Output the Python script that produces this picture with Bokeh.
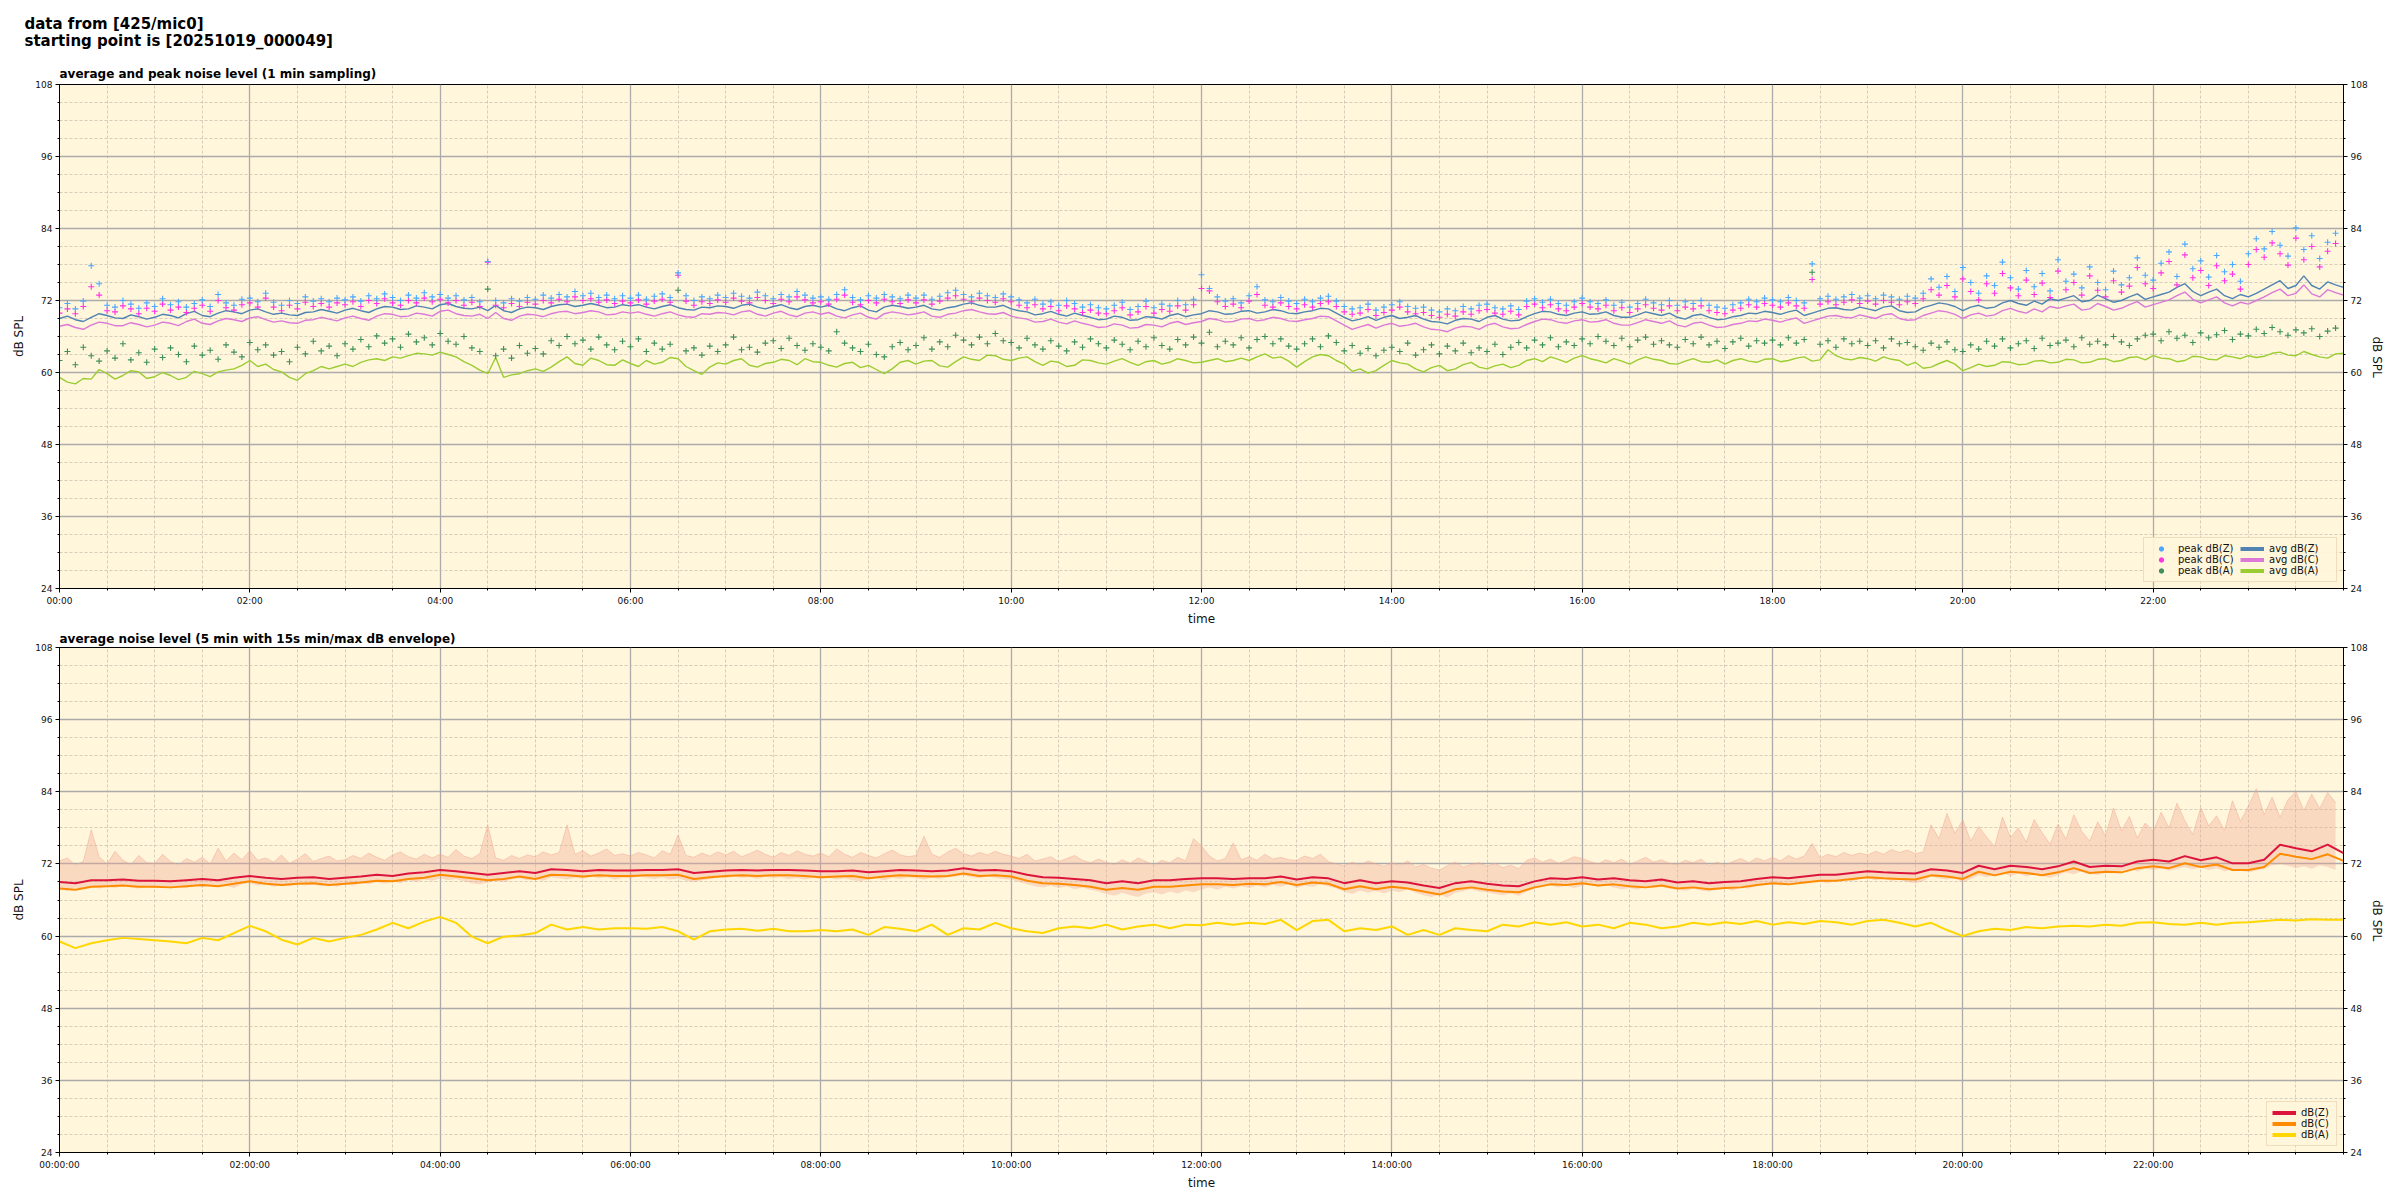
import math
from bokeh.plotting import figure
from bokeh.models import Range1d, LinearAxis, FixedTicker, Title, Legend, LegendItem
from bokeh.layouts import column
from bokeh.embed import file_html
from bokeh.resources import INLINE

# ---------------- data ----------------
SUPTITLE = "data from [425/mic0]\nstarting point is [20251019_000049]"
TITLE_TOP = "average and peak noise level (1 min sampling)"
TITLE_BOT = "average noise level (5 min with 15s min/max dB envelope)"

x_ticks = [0, 120, 240, 360, 480, 600, 720, 840, 960, 1080, 1200, 1320]
x_labels_top = ["00:00", "02:00", "04:00", "06:00", "08:00", "10:00",
                "12:00", "14:00", "16:00", "18:00", "20:00", "22:00"]
x_labels_bot = ["00:00:00", "02:00:00", "04:00:00", "06:00:00", "08:00:00", "10:00:00",
                "12:00:00", "14:00:00", "16:00:00", "18:00:00", "20:00:00", "22:00:00"]
y_ticks = [24, 36, 48, 60, 72, 84, 96, 108]

# minutes after midnight
t5_line = list(range(0, 1441, 5))   # 5-minute readings incl. end point
t5 = list(range(0, 1440, 5))        # 5-minute readings
t10 = list(range(0, 1441, 10))      # 10-minute readings

# --- top chart: average levels (5-min readings)
avg_z = [69.0, 69.4, 68.8, 68.5, 69.2, 69.8, 69.5, 69.1, 69.0, 69.6, 69.3, 68.9,
         69.2, 69.7, 69.5, 69.1, 69.8, 70.2, 69.5, 69.3, 69.9, 70.3, 70.1, 69.8,
         70.4, 70.6, 70.1, 69.7, 69.9, 69.6, 69.5, 70.0, 70.1, 70.5, 70.2, 69.9,
         70.4, 70.7, 70.3, 70.0, 70.6, 71.0, 70.9, 70.5, 70.6, 71.1, 70.9, 70.6,
         71.3, 71.5, 71.0, 70.7, 70.6, 70.9, 70.3, 71.2, 70.3, 70.0, 70.6, 70.9,
         70.8, 70.5, 71.0, 71.3, 71.4, 71.0, 71.2, 71.5, 71.2, 70.8, 70.9, 71.3,
         71.1, 71.3, 70.9, 70.6, 71.0, 71.3, 70.8, 70.5, 70.4, 70.9, 70.8, 71.1,
         71.0, 70.7, 71.2, 71.4, 70.9, 70.6, 71.0, 71.3, 70.8, 70.5, 71.0, 71.2,
         70.9, 71.2, 70.6, 70.3, 70.8, 71.1, 70.4, 70.1, 70.9, 71.2, 71.0, 70.7,
         70.9, 71.2, 70.6, 70.4, 70.8, 71.0, 71.4, 71.6, 71.2, 70.9, 70.9, 71.2,
         70.6, 70.3, 70.1, 69.6, 69.8, 70.2, 69.7, 69.4, 69.9, 69.5, 69.2, 68.8,
         68.9, 69.4, 69.2, 68.7, 68.8, 69.3, 69.2, 68.9, 69.5, 69.8, 69.3, 69.6,
         69.8, 70.3, 70.1, 69.7, 69.8, 70.2, 70.3, 69.9, 70.1, 70.5, 70.3, 69.9,
         69.8, 70.1, 70.3, 70.7, 70.6, 69.9, 69.2, 68.6, 68.9, 69.3, 68.7, 69.2,
         69.5, 69.0, 69.2, 69.5, 68.9, 68.5, 68.4, 68.1, 68.7, 69.0, 68.9, 68.5,
         69.2, 69.5, 68.9, 68.6, 68.7, 69.3, 69.8, 70.2, 70.1, 69.7, 69.5, 69.9,
         70.1, 69.7, 69.8, 70.1, 69.5, 69.2, 69.2, 69.6, 70.1, 69.8, 69.5, 69.9,
         69.2, 68.9, 69.5, 69.7, 69.2, 68.8, 68.9, 69.3, 69.5, 69.9, 69.8, 70.2,
         70.0, 69.7, 70.1, 70.4, 69.5, 69.9, 70.3, 70.7, 70.8, 70.5, 70.4, 70.9,
         70.6, 70.3, 70.9, 71.1, 70.3, 70.0, 70.1, 70.8, 71.2, 71.6, 71.4, 71.0,
         70.3, 70.9, 71.2, 70.7, 70.9, 71.6, 72.0, 71.5, 71.2, 71.9, 71.4, 72.3,
         72.0, 72.4, 72.8, 71.8, 72.0, 72.9, 72.3, 71.7, 72.0, 72.6, 73.1, 72.2,
         72.6, 73.0, 73.4, 74.2, 74.8, 73.5, 72.8, 73.4, 73.9, 72.8, 72.3, 73.0,
         72.6, 73.2, 73.9, 74.6, 75.3, 74.0, 74.5, 76.1, 74.5, 73.9, 75.1, 74.6,
         74.2]
avg_c = [67.7, 68.0, 67.5, 67.2, 67.9, 68.4, 68.2, 67.8, 67.8, 68.3, 68.0, 67.6,
         67.9, 68.4, 68.2, 67.8, 68.5, 68.9, 68.2, 68.0, 68.6, 69.0, 68.8, 68.5,
         69.1, 69.3, 68.8, 68.4, 68.6, 68.3, 68.2, 68.7, 68.8, 69.2, 68.9, 68.6,
         69.1, 69.4, 69.0, 68.7, 69.4, 69.8, 69.7, 69.3, 69.4, 69.9, 69.7, 69.4,
         70.2, 70.4, 69.8, 69.5, 69.4, 69.7, 69.0, 70.0, 69.0, 68.7, 69.4, 69.7,
         69.6, 69.3, 69.8, 70.1, 70.2, 69.8, 70.0, 70.3, 70.1, 69.6, 69.7, 70.1,
         69.9, 70.1, 69.7, 69.4, 69.8, 70.1, 69.6, 69.3, 69.2, 69.8, 69.7, 70.0,
         69.9, 69.6, 70.1, 70.3, 69.7, 69.4, 69.9, 70.2, 69.6, 69.3, 69.9, 70.1,
         69.7, 70.0, 69.4, 69.1, 69.6, 69.9, 69.2, 68.9, 69.8, 70.1, 69.9, 69.6,
         69.8, 70.1, 69.4, 69.2, 69.7, 69.9, 70.3, 70.5, 70.1, 69.8, 69.7, 70.0,
         69.4, 69.1, 68.9, 68.4, 68.5, 68.9, 68.4, 68.1, 68.6, 68.2, 67.9, 67.5,
         67.6, 68.1, 67.9, 67.4, 67.5, 68.0, 67.9, 67.6, 68.2, 68.5, 68.0, 68.3,
         68.5, 69.0, 68.8, 68.4, 68.5, 68.9, 69.0, 68.6, 68.8, 69.2, 69.0, 68.6,
         68.5, 68.8, 69.0, 69.4, 69.3, 68.6, 67.9, 67.2, 67.6, 68.0, 67.4, 67.9,
         68.2, 67.7, 67.9, 68.2, 67.6, 67.2, 67.1, 66.8, 67.4, 67.7, 67.6, 67.2,
         67.9, 68.2, 67.6, 67.3, 67.4, 68.0, 68.5, 68.9, 68.8, 68.4, 68.2, 68.6,
         68.8, 68.4, 68.5, 68.8, 68.2, 67.9, 67.9, 68.3, 68.8, 68.5, 68.2, 68.6,
         67.9, 67.6, 68.2, 68.4, 67.9, 67.5, 67.6, 68.0, 68.2, 68.6, 68.5, 68.9,
         68.7, 68.4, 68.8, 69.1, 68.2, 68.6, 69.0, 69.4, 69.5, 69.2, 69.1, 69.6,
         69.3, 69.0, 69.6, 69.8, 69.0, 68.7, 68.8, 69.5, 69.9, 70.3, 70.1, 69.7,
         69.0, 69.6, 69.9, 69.4, 69.6, 70.3, 70.7, 70.2, 69.9, 70.6, 70.1, 71.0,
         70.7, 71.1, 71.4, 70.4, 70.6, 71.5, 71.0, 70.4, 70.7, 71.3, 71.8, 70.9,
         71.3, 71.7, 72.1, 72.8, 73.4, 72.2, 71.6, 72.1, 72.6, 71.6, 71.1, 71.7,
         71.4, 72.0, 72.6, 73.3, 73.9, 72.8, 73.2, 74.6, 73.1, 72.6, 73.8, 73.3,
         72.9]
avg_a = [59.2, 58.4, 58.1, 59.0, 58.9, 60.5, 59.8, 58.9, 59.5, 60.3, 60.1, 59.0,
         59.3, 60.0, 59.5, 58.8, 59.2, 60.2, 59.8, 59.3, 60.1, 60.4, 60.6, 61.2,
         62.0, 61.0, 61.4, 60.5, 60.1, 59.2, 58.7, 59.8, 60.3, 61.0, 60.6, 61.0,
         61.4, 61.0, 61.7, 62.1, 62.3, 62.0, 62.6, 62.4, 62.8, 63.2, 63.1, 62.9,
         63.4, 63.0, 62.6, 61.8, 61.2, 60.4, 59.8, 62.5, 59.2, 59.6, 59.8, 60.3,
         60.6, 60.2, 60.9, 61.8, 62.6, 61.5, 61.2, 62.4, 62.0, 61.3, 61.2, 62.1,
         61.5, 61.0, 62.0, 61.4, 61.7, 62.5, 62.3, 61.0, 60.3, 59.7, 60.9, 61.6,
         61.4, 62.0, 62.3, 61.2, 60.9, 61.5, 61.7, 62.2, 62.0, 61.3, 62.3, 61.8,
         61.7, 61.2, 60.9, 61.5, 61.7, 60.8, 61.2, 60.5, 59.8, 60.6, 61.7, 62.0,
         61.4, 61.9, 62.0, 61.1, 60.9, 61.8, 62.6, 62.2, 62.0, 62.9, 62.8, 62.2,
         62.0, 62.4, 62.6, 61.8, 61.2, 61.9, 61.7, 61.0, 61.2, 62.1, 62.0, 61.6,
         61.4, 61.9, 62.3, 61.7, 61.2, 61.8, 62.0, 61.4, 61.7, 62.3, 62.0, 61.6,
         61.7, 62.0, 62.3, 61.8, 62.0, 62.4, 62.0, 62.6, 63.1, 62.4, 62.6, 61.9,
         60.9, 61.8, 62.6, 63.0, 62.8, 62.0, 61.4, 60.2, 60.6, 59.9, 60.3, 61.2,
         62.0, 61.6, 61.4, 60.6, 60.1, 60.8, 61.2, 60.3, 60.6, 61.3, 61.7, 60.9,
         60.6, 61.1, 61.4, 60.8, 61.2, 62.0, 62.3, 61.8, 62.6, 62.2, 61.7, 62.4,
         62.8, 62.3, 62.0, 61.6, 62.3, 61.9, 61.4, 62.1, 62.6, 62.2, 62.0, 61.5,
         61.4, 61.9, 62.3, 61.8, 61.7, 62.1, 61.4, 62.0, 62.3, 61.9, 61.7, 62.2,
         62.3, 61.8, 62.0, 62.4, 62.6, 61.9, 62.1, 63.8, 62.8, 62.3, 62.1, 62.5,
         62.3, 61.9, 62.6, 62.2, 62.0, 61.2, 61.7, 60.7, 60.9, 61.5, 62.0, 61.4,
         60.3, 60.8, 61.4, 61.0, 61.2, 61.8, 61.7, 61.3, 61.4, 61.9, 62.0, 61.6,
         61.7, 62.2, 62.1, 61.6, 61.7, 62.2, 62.3, 61.8, 62.0, 62.5, 62.6, 62.1,
         62.8, 62.4, 62.3, 61.8, 62.0, 62.7, 62.6, 62.2, 62.1, 62.8, 62.6, 62.3,
         62.8, 62.5, 62.7, 63.2, 63.4, 62.9, 62.8, 63.5, 63.0, 62.6, 62.4, 63.1,
         63.2]

# --- top chart: peak levels (5-min readings)
peak_z = [70.8, 71.5, 70.6, 71.9, 77.8, 74.8, 71.2, 70.9, 72.0, 71.4, 70.7, 71.6,
          71.0, 72.3, 71.3, 71.8, 70.9, 71.5, 72.1, 71.0, 73.0, 71.6, 71.2, 72.2,
          72.4, 71.8, 73.2, 71.7, 71.2, 72.0, 71.5, 72.6, 71.9, 72.3, 71.8, 72.4,
          72.1, 72.6, 71.9, 72.8, 72.3, 73.1, 72.5, 72.0, 72.9, 72.4, 73.3, 72.6,
          73.0, 72.4, 72.8, 72.1, 72.5, 71.8, 78.5, 72.0, 71.6, 72.3, 71.9, 72.5,
          72.2, 72.9, 72.4, 73.0, 72.6, 73.5, 72.8, 73.2, 72.5, 72.9, 72.3, 72.8,
          72.4, 72.9, 72.2, 72.7, 73.1, 72.5, 76.6, 72.8, 72.0, 72.6, 72.3, 72.9,
          72.5, 73.2, 72.7, 72.4, 73.4, 72.8, 72.3, 73.0, 72.6, 73.5, 72.9, 72.4,
          72.6, 72.2, 73.0, 73.8, 72.5, 72.1, 72.8, 72.4, 73.0, 72.6, 72.3, 72.9,
          72.4, 72.9, 72.2, 72.7, 73.3, 73.7, 73.0, 72.6, 73.2, 72.8, 72.5, 73.1,
          72.6, 72.1, 71.6, 72.2, 71.4, 71.8, 71.2, 72.0, 71.5, 70.9, 71.3, 70.8,
          70.6, 71.2, 71.7, 70.5, 71.0, 71.9, 70.8, 71.4, 71.1, 72.0, 71.3, 72.2,
          76.3, 74.0, 72.6, 71.9, 72.3, 71.6, 72.8, 74.3, 72.1, 71.8, 72.5, 71.9,
          71.5, 72.2, 71.8, 72.4, 72.7, 71.9, 71.0, 70.6, 70.8, 71.4, 70.4, 70.9,
          71.3, 71.8, 71.0, 70.7, 70.9, 70.4, 70.1, 70.6, 70.3, 71.0, 70.6, 71.2,
          71.4, 70.8, 70.6, 71.1, 70.5, 71.9, 72.3, 71.7, 72.2, 71.5, 71.2, 71.8,
          72.4, 71.8, 71.5, 72.1, 71.2, 71.7, 70.9, 71.5, 72.2, 71.6, 71.3, 72.0,
          71.2, 71.8, 71.5, 72.0, 71.2, 70.9, 70.7, 71.3, 71.6, 72.2, 71.8, 72.4,
          72.1, 71.8, 72.5, 72.0, 71.6, 78.1, 72.3, 72.7, 72.2, 72.6, 73.0, 72.4,
          72.8, 72.3, 72.9, 72.6, 72.2, 72.7, 72.4, 73.2, 75.6, 74.2, 76.0, 73.5,
          77.5, 75.0, 73.2, 76.1, 74.5, 78.4, 75.8, 73.9, 77.0, 74.3, 76.5, 73.6,
          78.8, 75.2, 76.4, 74.1, 77.6, 75.0, 73.8, 76.9, 74.6, 75.8, 79.1, 76.2,
          75.4, 78.2, 80.1, 76.0, 81.4, 77.3, 78.6, 75.9, 79.5, 76.8, 78.0, 75.2,
          79.8, 82.3, 80.6, 83.5, 81.2, 79.4, 84.1, 80.5, 82.8, 79.0, 81.7, 83.2]
peak_c = [69.9, 70.6, 69.8, 71.0, 74.3, 72.9, 70.3, 70.1, 71.1, 70.6, 69.8, 70.7,
          70.2, 71.4, 70.4, 70.9, 70.0, 70.7, 71.2, 70.2, 72.0, 70.8, 70.4, 71.3,
          71.6, 70.9, 72.4, 70.9, 70.3, 71.2, 70.6, 71.7, 71.0, 71.5, 70.9, 71.6,
          71.3, 71.8, 71.0, 72.0, 71.5, 72.3, 71.6, 71.2, 72.0, 71.6, 72.4, 71.8,
          72.2, 71.6, 72.0, 71.2, 71.7, 71.0, 78.4, 71.2, 70.8, 71.5, 71.0, 71.7,
          71.4, 72.0, 71.6, 72.2, 71.8, 72.6, 72.0, 72.3, 71.7, 72.1, 71.5, 71.9,
          71.6, 72.1, 71.4, 71.9, 72.2, 71.7, 76.2, 71.9, 71.2, 71.8, 71.5, 72.1,
          71.7, 72.4, 71.9, 71.6, 72.5, 72.0, 71.5, 72.2, 71.8, 72.6, 72.1, 71.6,
          71.8, 71.4, 72.2, 72.9, 71.7, 71.3, 72.0, 71.6, 72.2, 71.8, 71.5, 72.1,
          71.6, 72.1, 71.4, 71.9, 72.4, 72.8, 72.2, 71.8, 72.4, 72.0, 71.7, 72.3,
          71.8, 71.2, 70.8, 71.3, 70.6, 71.0, 70.3, 71.1, 70.6, 70.0, 70.4, 69.9,
          69.8, 70.3, 70.8, 69.6, 70.1, 71.0, 69.9, 70.5, 70.2, 71.1, 70.4, 71.3,
          74.0, 73.6, 71.8, 71.0, 71.4, 70.8, 71.9, 73.0, 71.2, 70.9, 71.6, 71.0,
          70.6, 71.3, 70.9, 71.5, 71.8, 71.0, 70.1, 69.7, 69.9, 70.5, 69.5, 70.0,
          70.4, 70.9, 70.1, 69.8, 70.0, 69.5, 69.2, 69.7, 69.4, 70.1, 69.7, 70.3,
          70.5, 69.9, 69.7, 70.2, 69.6, 71.0, 71.4, 70.8, 71.3, 70.6, 70.3, 70.9,
          71.5, 70.9, 70.6, 71.2, 70.3, 70.8, 70.0, 70.6, 71.3, 70.7, 70.4, 71.1,
          70.3, 70.9, 70.6, 71.1, 70.3, 70.0, 69.8, 70.4, 70.7, 71.3, 70.9, 71.5,
          71.2, 70.9, 71.6, 71.1, 70.7, 75.5, 71.4, 71.8, 71.3, 71.7, 72.1, 71.5,
          71.9, 71.4, 72.0, 71.7, 71.3, 71.8, 71.5, 72.3, 73.8, 72.9, 74.5, 72.6,
          75.6, 73.5, 72.1, 74.8, 73.2, 76.5, 74.1, 72.8, 75.4, 73.0, 74.9, 72.5,
          76.9, 73.8, 75.0, 72.9, 76.1, 73.7, 72.6, 75.3, 73.4, 74.4, 77.5, 74.8,
          74.0, 76.6, 78.5, 74.6, 79.6, 75.8, 77.0, 74.5, 77.8, 75.3, 76.4, 73.9,
          78.0, 80.5, 79.2, 81.6, 79.8, 77.9, 82.4, 78.8, 81.0, 77.6, 80.2, 81.5]
peak_a = [62.0, 63.5, 61.3, 64.2, 62.8, 61.9, 63.6, 62.4, 64.8, 62.1, 63.3, 61.7,
          63.9, 62.5, 64.1, 63.0, 61.8, 64.4, 62.9, 63.7, 62.2, 64.6, 63.4, 62.6,
          65.0, 63.8, 64.6, 62.9, 63.5, 61.8, 64.2, 63.1, 65.2, 63.6, 64.4, 62.8,
          64.8, 63.9, 65.5, 64.3, 66.1, 64.9, 65.6, 64.2, 66.4, 65.1, 65.8, 64.6,
          66.5, 65.2, 64.7, 66.0, 64.1, 63.5, 73.9, 62.8, 63.9, 62.4, 64.5, 63.2,
          64.0, 63.1, 65.3, 64.5, 66.0, 64.8, 65.4, 63.9, 65.9, 64.6, 63.8, 65.2,
          64.3, 65.6, 63.5, 64.9, 63.9, 64.7, 73.7, 63.6, 64.1, 62.9, 64.4, 63.5,
          64.6, 65.9, 63.8, 64.2, 63.4, 64.9, 65.3, 64.0, 65.7, 64.5, 63.7, 64.8,
          64.2, 63.6, 66.8, 64.9, 64.1, 63.5, 64.7, 63.0, 62.6, 64.3, 65.0, 63.8,
          64.5, 65.8, 63.9, 65.1, 64.3, 66.2, 65.4, 64.6, 65.9, 64.8, 66.5, 65.3,
          65.0, 64.1, 65.7, 64.6, 63.9, 65.3, 64.4, 63.6, 65.1, 64.2, 65.6, 64.8,
          64.1, 65.4, 64.7, 63.8, 65.2, 64.3, 65.8, 64.5, 63.9, 65.5, 64.6, 65.9,
          64.9, 66.7, 64.3, 65.2, 64.6, 65.8, 64.1, 65.5, 66.0, 64.8, 65.6, 64.4,
          63.9, 64.8, 65.6, 64.3, 66.1, 65.0, 63.6, 64.5, 63.2, 64.0, 62.8, 63.7,
          64.2, 63.5, 64.9, 62.9, 63.8, 64.6, 63.1, 64.4, 63.6, 64.9, 63.3, 64.1,
          63.5, 64.7, 63.0, 64.2, 65.0, 64.1, 65.4, 64.6, 65.8, 64.3, 65.1, 64.5,
          65.6, 64.8, 66.0, 65.2, 64.5, 65.7, 64.3, 65.4, 65.9, 64.7, 65.3, 64.6,
          64.2, 65.5, 64.8, 65.9, 64.6, 65.2, 64.0, 65.1, 65.7, 64.4, 65.3, 64.9,
          65.4, 64.6, 65.8, 64.9, 65.5, 76.7, 64.7, 65.3, 64.2, 65.6, 64.8, 65.2,
          64.5, 65.3, 64.1, 65.6, 64.8, 65.0, 64.3, 63.7, 64.9, 64.2, 65.1, 63.8,
          63.5, 64.6, 63.9, 65.2, 64.4, 65.6, 64.1, 64.8, 65.3, 64.0, 65.7, 64.5,
          64.9, 65.4, 64.3, 65.8, 64.7, 65.2, 64.6, 66.0, 65.1, 64.5, 65.6, 66.2,
          66.4, 65.3, 66.8, 65.7, 66.2, 65.0, 66.6, 65.8, 66.3, 67.0, 65.5, 66.4,
          66.1, 67.2, 66.5, 67.5, 66.8, 66.2, 67.1, 66.6, 67.3, 66.0, 66.9, 67.4]

# --- bottom chart: 5-min averages (10-min readings)
low_z = [69.0, 68.8, 69.3, 69.3, 69.4, 69.2,
         69.2, 69.1, 69.3, 69.5, 69.3, 69.7,
         70.0, 69.7, 69.5, 69.7, 69.8, 69.5,
         69.7, 69.9, 70.2, 70.0, 70.4, 70.6,
         71.0, 70.8, 70.5, 70.2, 70.5, 70.8,
         70.5, 71.1, 71.0, 70.8, 71.0, 70.9,
         70.9, 71.0, 71.0, 71.1, 70.5, 70.7,
         70.9, 71.0, 70.9, 71.0, 71.0, 70.9,
         70.8, 70.8, 70.9, 70.6, 70.8, 71.0,
         70.9, 70.8, 70.9, 71.3, 70.9, 71.0,
         70.8, 70.2, 69.8, 69.7, 69.5, 69.3,
         68.8, 69.1, 68.8, 69.3, 69.3, 69.5,
         69.6, 69.6, 69.5, 69.6, 69.6, 69.9,
         69.4, 69.8, 69.6, 68.8, 69.3, 68.8,
         69.1, 68.9, 68.4, 68.0, 68.8, 69.1,
         68.7, 68.4, 68.3, 69.1, 69.6, 69.5,
         69.8, 69.4, 69.6, 69.3, 69.1, 69.4,
         68.9, 69.1, 68.8, 69.0, 69.1, 69.5,
         69.8, 69.6, 69.9, 70.2, 70.2, 70.5,
         70.8, 70.6, 70.5, 70.4, 71.1, 70.9,
         70.5, 71.7, 71.1, 71.7, 71.5, 71.1,
         71.6, 72.4, 71.5, 71.7, 71.6, 72.4,
         72.7, 72.4, 73.3, 72.6, 73.1, 72.1,
         72.1, 72.7, 75.2, 74.6, 74.1, 75.2,
         73.8]
low_c = [67.9, 67.7, 68.2, 68.3, 68.4, 68.2,
         68.2, 68.1, 68.3, 68.5, 68.3, 68.7,
         69.1, 68.7, 68.5, 68.7, 68.8, 68.5,
         68.7, 68.9, 69.2, 69.1, 69.5, 69.7,
         70.2, 69.9, 69.6, 69.3, 69.5, 69.9,
         69.5, 70.2, 70.1, 69.9, 70.1, 70.0,
         70.0, 70.1, 70.1, 70.2, 69.5, 69.8,
         70.0, 70.1, 70.0, 70.1, 70.1, 70.0,
         69.8, 69.9, 70.0, 69.6, 69.9, 70.1,
         70.0, 69.9, 70.0, 70.4, 70.0, 70.1,
         69.9, 69.2, 68.8, 68.7, 68.5, 68.2,
         67.7, 68.0, 67.7, 68.2, 68.2, 68.4,
         68.6, 68.6, 68.5, 68.7, 68.6, 69.0,
         68.5, 68.9, 68.7, 67.8, 68.3, 67.8,
         68.2, 67.9, 67.4, 66.9, 67.8, 68.1,
         67.7, 67.4, 67.3, 68.1, 68.6, 68.5,
         68.8, 68.4, 68.6, 68.3, 68.1, 68.4,
         67.9, 68.1, 67.8, 68.0, 68.1, 68.5,
         68.8, 68.6, 68.9, 69.2, 69.2, 69.5,
         69.8, 69.6, 69.5, 69.4, 70.1, 69.9,
         69.5, 70.7, 70.1, 70.7, 70.5, 70.1,
         70.6, 71.3, 70.5, 70.7, 70.6, 71.3,
         71.6, 71.3, 72.1, 71.5, 71.9, 71.0,
         71.0, 71.5, 73.7, 73.2, 72.8, 73.6,
         72.5]
low_a = [59.1, 58.0, 58.8, 59.3, 59.7, 59.5,
         59.3, 59.1, 58.8, 59.7, 59.3, 60.5,
         61.7, 60.8, 59.4, 58.6, 59.7, 59.1,
         59.7, 60.2, 61.1, 62.2, 61.3, 62.4,
         63.2, 62.2, 59.9, 58.8, 59.9, 60.1,
         60.5, 61.9, 61.1, 61.5, 61.1, 61.3,
         61.3, 61.2, 61.5, 60.8, 59.4, 60.8,
         61.1, 61.2, 60.9, 61.2, 60.8, 60.8,
         61.0, 60.8, 61.1, 60.2, 61.5, 61.2,
         60.8, 61.9, 60.2, 61.3, 61.1, 62.2,
         61.3, 60.8, 60.5, 61.3, 61.6, 61.3,
         61.9, 61.1, 61.6, 61.9, 61.3, 61.9,
         61.8, 62.2, 61.9, 62.2, 62.0, 62.7,
         61.0, 62.5, 62.7, 60.8, 61.3, 61.0,
         61.6, 60.2, 61.0, 60.2, 61.3, 61.0,
         60.8, 61.9, 61.6, 62.3, 61.9, 62.3,
         61.6, 61.9, 61.3, 62.2, 61.9, 61.3,
         61.6, 62.2, 61.9, 62.3, 62.0, 62.5,
         61.9, 62.3, 62.0, 62.5, 62.3, 61.9,
         62.5, 62.7, 62.2, 61.6, 62.2, 61.0,
         60.0, 60.8, 61.2, 61.0, 61.5, 61.3,
         61.6, 61.7, 61.6, 61.9, 61.7, 62.2,
         62.3, 62.0, 61.9, 62.2, 61.9, 62.2,
         62.3, 62.5, 62.7, 62.6, 62.8, 62.7,
         62.7]

# --- bottom chart: 15 s min/max envelope (5-min readings)
env_hi = [72.5, 73.0, 71.8, 72.4, 77.7, 73.2, 72.0, 74.1, 72.6, 71.9, 73.4, 72.2,
          72.1, 73.6, 72.4, 71.8, 72.9, 72.3, 73.1, 72.0, 74.6, 72.5, 73.8, 72.7,
          74.2, 72.6, 73.0, 72.3, 73.5, 72.1, 72.8, 73.7, 72.4, 72.9, 73.3, 72.5,
          72.7, 73.4, 72.9, 73.8, 73.1, 72.6, 73.5, 74.0, 73.2, 72.8, 73.6, 73.0,
          73.6, 73.1, 74.4, 73.3, 72.9, 73.7, 78.5, 73.0, 72.6, 73.4, 72.9, 73.5,
          73.2, 74.0, 73.5, 73.9, 78.5, 73.6, 74.2, 73.3, 73.8, 74.5, 73.4, 73.7,
          73.3, 73.9, 73.5, 73.0, 74.2, 73.6, 76.8, 73.4, 73.1, 73.8, 73.3, 74.0,
          73.5, 74.1, 73.2, 73.7, 74.3, 73.6, 73.1, 73.9, 73.4, 74.2, 73.6, 73.3,
          73.8, 73.2, 74.5, 73.6, 73.1, 73.9, 73.4, 73.0, 73.7, 74.3, 73.5, 73.2,
          73.4, 76.6, 73.6, 73.1, 74.0, 74.6, 73.7, 73.3, 73.9, 73.5, 74.1, 73.6,
          73.3, 72.9, 73.6, 72.5, 72.8, 73.2, 72.4, 72.9, 73.4, 72.6, 72.2, 72.8,
          72.3, 71.9, 72.7, 72.1, 73.0, 72.4, 71.8, 72.6, 72.2, 73.1, 72.5, 76.2,
          75.0, 73.3, 72.5, 72.9, 75.5, 72.7, 73.2, 72.6, 73.6, 72.8, 73.1, 72.7,
          72.6, 73.3, 72.9, 73.6, 72.4, 72.0, 71.7, 72.3, 71.8, 72.5, 72.0, 71.6,
          72.2, 71.8, 72.5, 71.5, 71.9, 71.3, 71.0, 71.7, 72.3, 71.5, 71.9, 72.2,
          71.6, 72.1, 71.4, 71.8, 71.2, 72.6, 73.0, 72.3, 72.8, 72.1, 72.6, 73.2,
          72.9, 72.4, 72.0, 72.7, 72.2, 72.8, 71.9, 72.5, 73.1, 72.3, 72.7, 72.1,
          71.9, 72.6, 72.2, 72.8, 71.7, 72.3, 71.8, 72.4, 72.9, 72.2, 73.0, 72.5,
          73.1, 72.5, 73.4, 72.8, 73.3, 75.4, 73.0, 73.6, 73.2, 73.9, 73.4, 73.8,
          73.5, 74.1, 73.6, 74.4, 73.9, 74.3, 73.7, 74.0, 78.5, 76.2, 80.4, 77.1,
          79.3, 75.8, 78.2, 76.5, 74.9, 79.8, 76.4, 78.0, 75.6, 79.4, 77.2, 75.3,
          78.6, 76.1, 80.2, 77.4, 75.8, 79.0, 76.7, 81.3, 77.5, 79.9, 76.3, 78.8,
          77.4, 80.6, 78.0, 82.1, 79.2, 76.9, 81.4, 78.3, 80.0, 77.6, 82.5, 79.1,
          81.6, 84.5, 80.2, 83.1, 79.8, 82.7, 84.0, 80.9, 83.6, 81.2, 83.9, 82.2]
env_lo = [67.9, 67.5, 68.1, 67.8, 68.2, 67.9, 68.3, 68.0, 68.4, 68.1, 67.9, 68.2,
          68.0, 68.3, 67.9, 68.2, 68.0, 68.4, 68.1, 68.5, 68.2, 68.4, 68.0, 68.6,
          68.8, 68.4, 68.6, 68.2, 68.5, 68.3, 68.7, 68.4, 68.6, 68.3, 68.5, 68.2,
          68.6, 68.4, 68.8, 68.6, 69.0, 68.7, 69.1, 68.8, 69.3, 69.0, 69.4, 69.2,
          69.6, 69.3, 69.5, 69.1, 68.8, 68.6, 68.9, 69.2, 69.0, 69.4, 69.6, 69.3,
          69.5, 69.2, 69.8, 69.6, 69.4, 69.7, 69.5, 69.9, 69.6, 69.8, 69.4, 69.7,
          69.6, 69.9, 69.7, 69.5, 69.8, 69.4, 69.6, 69.2, 69.0, 69.3, 69.5, 69.7,
          69.6, 69.9, 69.7, 69.8, 69.5, 69.9, 69.6, 69.8, 69.5, 69.7, 69.4, 69.7,
          69.5, 69.7, 69.4, 69.6, 69.3, 69.1, 69.4, 69.6, 69.3, 69.7, 69.5, 69.8,
          69.6, 69.4, 69.7, 69.5, 69.8, 69.9, 70.1, 69.8, 69.6, 69.9, 69.7, 69.5,
          69.4, 69.0, 68.6, 68.3, 68.1, 68.4, 68.0, 68.3, 67.8, 68.1, 67.7, 67.4,
          67.0, 66.7, 67.2, 66.8, 66.5, 67.1, 67.3, 66.9, 67.4, 67.1, 67.6, 67.3,
          67.8, 68.1, 67.7, 68.2, 67.9, 68.3, 68.0, 68.4, 68.1, 68.5, 68.2, 68.6,
          68.0, 68.4, 68.2, 68.6, 68.3, 67.9, 67.4, 67.0, 67.6, 67.2, 67.5, 67.1,
          67.6, 67.3, 67.8, 67.2, 66.8, 66.5, 66.9, 66.4, 67.2, 67.5, 67.8, 67.4,
          67.3, 67.0, 66.8, 67.1, 66.7, 67.4, 67.9, 68.2, 68.5, 68.1, 68.4, 68.0,
          68.4, 68.7, 68.2, 68.5, 68.1, 67.8, 68.0, 67.7, 68.3, 68.0, 68.2, 67.9,
          67.8, 67.5, 67.9, 67.6, 67.4, 67.7, 67.9, 67.6, 68.1, 67.9, 68.3, 68.5,
          68.7, 68.4, 68.6, 68.9, 68.7, 69.1, 69.0, 68.8, 69.2, 69.4, 69.1, 69.5,
          69.6, 69.3, 69.5, 69.2, 69.4, 69.0, 68.8, 69.1, 69.9, 69.6, 69.4, 69.7,
          68.9, 69.5, 70.1, 69.8, 70.2, 70.5, 70.0, 70.4, 69.9, 70.3, 70.0, 69.7,
          70.1, 70.6, 70.3, 70.8, 70.4, 70.2, 70.5, 70.7, 70.9, 71.1, 70.8, 71.2,
          71.0, 71.3, 70.9, 71.2, 71.5, 71.1, 71.4, 71.0, 71.3, 70.8, 71.1, 70.9,
          70.6, 70.9, 71.2, 71.8, 72.0, 71.7, 71.3, 71.6, 71.2, 71.8, 71.5, 71.0]

# ---------------- styling ----------------
FONT = "DejaVu Sans"
BG = "#fff6dc"
C_PZ, C_PC, C_PA = "#4aa8ff", "#ff33e6", "#3d8f5c"
C_AZ, C_AC, C_AA = "#4f83b3", "#dc78d8", "#9acd32"
C_LZ, C_LC, C_LA = "#dc143c", "#ff8c00", "#ffd700"
C_ENV = "#f2a38e"
NAN = [float("nan")]


def style_axis(ax, label=None):
    ax.major_label_text_font = FONT
    ax.major_label_text_font_size = "9px"
    ax.major_label_text_color = "#111111"
    ax.axis_label_text_font = FONT
    ax.axis_label_text_font_size = "12px"
    ax.axis_label_text_font_style = "normal"
    ax.axis_label_text_color = "#111111"
    ax.axis_line_color = "black"
    ax.major_tick_line_color = "black"
    ax.minor_tick_line_color = "black"
    ax.major_tick_in = 0
    ax.major_tick_out = 4
    ax.minor_tick_in = 0
    ax.minor_tick_out = 2
    ax.major_label_standoff = 3
    ax.axis_label_standoff = 3
    if label is not None:
        ax.axis_label = label


def make_fig(frame_h, border_top, border_bottom, xlabels):
    p = figure(frame_width=2284, frame_height=frame_h,
               x_range=Range1d(0, 1440), y_range=Range1d(24, 108),
               output_backend="svg", toolbar_location=None,
               min_border_left=59, min_border_right=49,
               min_border_top=border_top, min_border_bottom=border_bottom)
    p.background_fill_color = BG
    p.border_fill_color = "white"
    p.outline_line_color = "black"
    p.outline_line_width = 1
    p.outline_line_alpha = 1

    xt = FixedTicker(ticks=x_ticks, minor_ticks=list(range(0, 1441, 30)))
    yt = FixedTicker(ticks=y_ticks, minor_ticks=list(range(24, 109, 3)))
    p.xaxis.ticker = xt
    p.yaxis.ticker = yt
    p.xgrid.ticker = xt
    p.ygrid.ticker = yt
    p.xaxis.major_label_overrides = {t: s for t, s in zip(x_ticks, xlabels)}
    style_axis(p.xaxis[0], "time")
    style_axis(p.yaxis[0], "dB SPL")
    p.yaxis[0].axis_label_standoff = 6
    right = LinearAxis(ticker=yt)
    style_axis(right, "dB SPL")
    right.axis_label_standoff = 6
    right.axis_label_orientation = -math.pi / 2
    p.add_layout(right, "right")

    for g in (p.xgrid[0], p.ygrid[0]):
        g.grid_line_color = "#ababab"
        g.grid_line_width = 1.3
        g.minor_grid_line_color = "#c9c3b0"
        g.minor_grid_line_dash = "3 2"
        g.minor_grid_line_width = 0.8
    return p


def style_legend(lg, label_width):
    lg.location = "bottom_right"
    lg.label_text_font = FONT
    lg.label_text_font_size = "10px"
    lg.label_text_color = "#111111"
    lg.label_height = 11
    lg.label_width = label_width
    lg.glyph_height = 11
    lg.glyph_width = 24
    lg.label_standoff = 5
    lg.spacing = 0
    lg.padding = 5
    lg.margin = 6
    lg.background_fill_color = BG
    lg.background_fill_alpha = 0.9
    lg.border_line_color = "#e3c299"
    lg.border_line_width = 1.2


# ---------------- top figure ----------------
p1 = make_fig(504, 84, 38, x_labels_top)
p1.title.text = SUPTITLE
p1.title.align = "left"
p1.title.offset = -35
p1.title.text_font = FONT
p1.title.text_font_size = "15px"
p1.title.text_font_style = "bold"
p1.title.text_color = "black"
p1.title.text_line_height = 0.95
p1.title.standoff = 23

p1.line(t5_line, avg_z, line_color=C_AZ, line_width=1.4)
p1.line(t5_line, avg_c, line_color=C_AC, line_width=1.4)
p1.line(t5_line, avg_a, line_color=C_AA, line_width=1.4)
p1.scatter(t5, peak_a, marker="cross", size=6, line_color=C_PA, line_width=1.1)
p1.scatter(t5, peak_c, marker="cross", size=6, line_color=C_PC, line_width=1.1)
p1.scatter(t5, peak_z, marker="cross", size=6, line_color=C_PZ, line_width=1.1)

# legend-only proxies (no visible data)
lp_z = p1.scatter(NAN, NAN, marker="circle", size=6, fill_color=C_PZ, line_color=C_PZ)
lp_c = p1.scatter(NAN, NAN, marker="circle", size=6, fill_color=C_PC, line_color=C_PC)
lp_a = p1.scatter(NAN, NAN, marker="circle", size=6, fill_color=C_PA, line_color=C_PA)
la_z = p1.line(NAN, NAN, line_color=C_AZ, line_width=4)
la_c = p1.line(NAN, NAN, line_color=C_AC, line_width=4)
la_a = p1.line(NAN, NAN, line_color=C_AA, line_width=4)
leg1 = Legend(items=[LegendItem(label="peak dB(Z)", renderers=[lp_z]),
                     LegendItem(label="peak dB(C)", renderers=[lp_c]),
                     LegendItem(label="peak dB(A)", renderers=[lp_a]),
                     LegendItem(label="avg dB(Z)", renderers=[la_z]),
                     LegendItem(label="avg dB(C)", renderers=[la_c]),
                     LegendItem(label="avg dB(A)", renderers=[la_a])],
              orientation="vertical", nrows=3)
style_legend(leg1, 62)
p1.add_layout(leg1)

t_sub = Title(text=TITLE_TOP, align="left", text_font=FONT, text_font_size="12px",
              text_font_style="bold", text_color="black", standoff=7)
p1.add_layout(t_sub, "above")

# ---------------- bottom figure ----------------
p2 = make_fig(505, 19, 42, x_labels_bot)
p2.title.text = TITLE_BOT
p2.title.align = "left"
p2.title.text_font = FONT
p2.title.text_font_size = "12px"
p2.title.text_font_style = "bold"
p2.title.text_color = "black"
p2.title.standoff = 3

p2.varea(x=t5, y1=env_lo, y2=env_hi, fill_color=C_ENV, fill_alpha=0.35)
p2.line(t5, env_hi, line_color=C_ENV, line_alpha=0.45, line_width=1)
p2.line(t10, low_z, line_color=C_LZ, line_width=2)
p2.line(t10, low_c, line_color=C_LC, line_width=2)
p2.line(t10, low_a, line_color=C_LA, line_width=2)
g_z = p2.line(NAN, NAN, line_color=C_LZ, line_width=4)
g_c = p2.line(NAN, NAN, line_color=C_LC, line_width=4)
g_a = p2.line(NAN, NAN, line_color=C_LA, line_width=4)
leg2 = Legend(items=[LegendItem(label="dB(Z)", renderers=[g_z]),
                     LegendItem(label="dB(C)", renderers=[g_c]),
                     LegendItem(label="dB(A)", renderers=[g_a])])
style_legend(leg2, 30)
p2.add_layout(leg2)

layout = column(p1, p2, spacing=0)
open("out.html", "w").write(file_html(layout, INLINE))
